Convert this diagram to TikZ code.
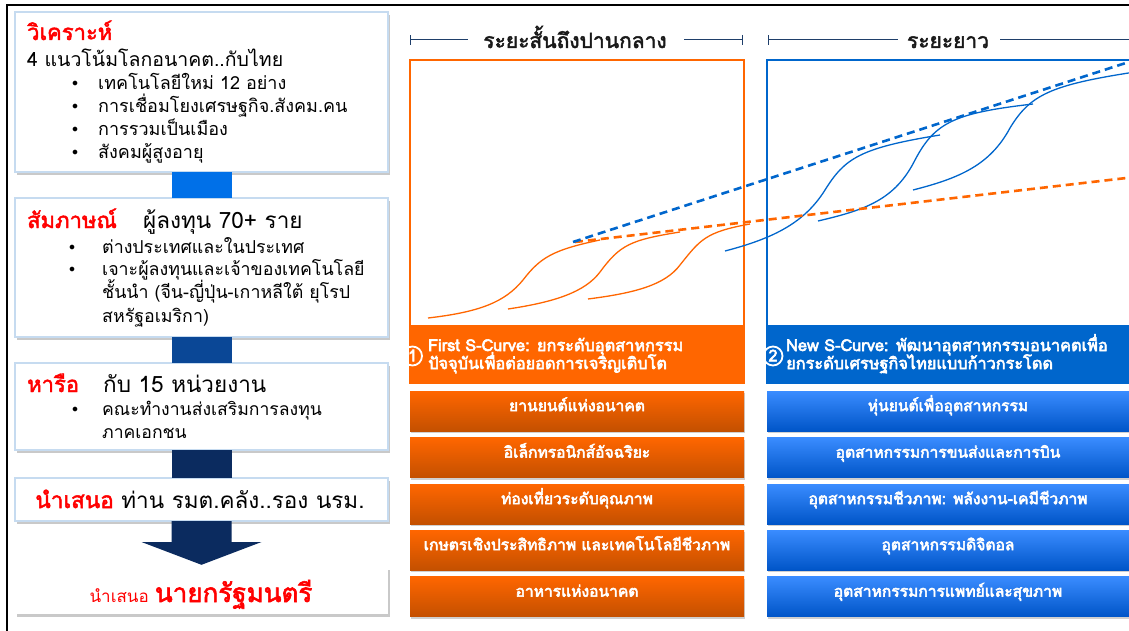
\documentclass[tikz,border=0pt]{standalone}
\usepackage{fontspec}
\setmainfont[Script=Thai, AutoFakeBold=2.2]{Loma}
\newfontfamily\heavy[Script=Thai, FakeBold=3.6]{Loma}
\usetikzlibrary{shadows,calc,arrows.meta}
\definecolor{tred}{HTML}{FF0000}
\definecolor{boxb}{HTML}{C6DBF0}
\definecolor{orng}{HTML}{FF6600}
\definecolor{orngd}{HTML}{C45000}
\definecolor{blu}{HTML}{0066CC}
\definecolor{blul}{HTML}{3A8CFF}
\definecolor{blud}{HTML}{0055C8}
\definecolor{hdr}{HTML}{1F3F6A}
\definecolor{cone}{HTML}{0070E8}
\definecolor{ctwo}{HTML}{0A4796}
\definecolor{cthree}{HTML}{0B2B5F}
\tikzset{
  lbox/.style={draw=boxb, line width=2pt, fill=white, minimum width=373pt,
    drop shadow={shadow xshift=2pt, shadow yshift=-3pt, opacity=0.35, fill=black!60}},
  plainbox/.style={fill=white, minimum width=373pt,
    drop shadow={shadow xshift=2pt, shadow yshift=-3pt, opacity=0.35, fill=black!60}},
  txt/.style={anchor=base west, inner sep=0pt},
  ctxt/.style={anchor=base, inner sep=0pt},
  bul/.style={anchor=base west, inner sep=0pt, font=\fontsize{12}{12}\selectfont, yshift=3pt},
  obar/.style={top color=orng, bottom color=orngd, minimum width=334pt, minimum height=40pt,
    drop shadow={shadow xshift=1pt, shadow yshift=-2pt, opacity=0.3, fill=black!60}},
  bbar/.style={top color=blul, bottom color=blud, minimum width=362pt, minimum height=40pt,
    drop shadow={shadow xshift=1pt, shadow yshift=-2pt, opacity=0.3, fill=black!60}},
  bartxt/.style={anchor=base, inner sep=0pt, text=white, font=\heavy\fontsize{15.6}{17}\selectfont},
  hdrline/.style={draw=hdr, line width=1pt},
  numc/.style={circle, draw=white, line width=1.8pt, text=white, inner sep=0pt, minimum size=19pt,
    text height=10.5pt, text depth=0pt, font=\heavy\fontsize{16}{16}\selectfont},
  bandtxt/.style={anchor=base west, inner sep=0pt, text=white, font=\heavy\fontsize{16.3}{18}\selectfont},
  oscurve/.style={draw=orng, line width=1.3pt},
  bscurve/.style={draw=blu, line width=1.3pt},
  ttl/.style={anchor=base west, inner sep=0pt, text=tred, font=\fontsize{22}{24}\selectfont\bfseries},
}
\begin{document}
\begin{tikzpicture}[x=1pt,y=-1pt]
\useasboundingbox (0,0) rectangle (1129,631);
\clip (0,0) rectangle (1129,631);
\fill[white] (0,0) rectangle (1129,631);
\draw[line width=2pt] (7,5) rectangle (1145,645);

% ---------- left column ----------
\node[lbox, minimum height=160pt] (b1) at (201.5,92) {};
\node[lbox, minimum height=139pt] (b2) at (201.5,267.5) {};
\node[lbox, minimum height=87pt] (b3) at (201.5,406.5) {};
\node[lbox, minimum height=43pt] (b4) at (201.5,499.5) {};
\node[plainbox, minimum height=47pt] (b5) at (201.5,590.5) {};

\fill[cone] ($(b1.south)+(-30,-1)$) rectangle ($(b2.north)+(30,1)$);
\fill[ctwo] ($(b2.south)+(-30,-1)$) rectangle ($(b3.north)+(30,1)$);
\fill[cthree] ($(b3.south)+(-30,-1)$) rectangle ($(b4.north)+(30,1)$);
\fill[cthree] ($(b4.south)+(-30,-1)$) -- ($(b4.south)+(30,-1)$) -- ($(b4.south)+(30,20)$)
  -- ($(b4.south)+(60,20)$) -- ($(b5.north)+(0,-2)$) -- ($(b4.south)+(-60,20)$)
  -- ($(b4.south)+(-30,20)$) -- cycle;

% box 1
\node[ttl] (t1) at (27,40) {วิเคราะห์};
\node[txt, font=\fontsize{19.5}{22}\selectfont] (t1a) at (27,67) {4 แนวโน้มโลกอนาคต..กับไทย};
\foreach \yy/\tt [count=\i] in {90/เทคโนโลยีใหม่ 12 อย่าง, 113/การเชื่อมโยงเศรษฐกิจ.สังคม.คน, 136/การรวมเป็นเมือง, 159/สังคมผู้สูงอายุ}{
  \node[bul] (bu1\i) at (72,\yy) {$\bullet$};
  \node[txt, font=\fontsize{18}{20}\selectfont] (l1\i) at (98,\yy) {\tt};
}
% box 2
\node[ttl] (t2) at (27,228) {สัมภาษณ์};
\node[txt, font=\fontsize{22.5}{24}\selectfont] (t2a) at (143,228) {ผู้ลงทุน 70+ ราย};
\node[bul] (bu21) at (69,253) {$\bullet$};
\node[txt, font=\fontsize{17.8}{20}\selectfont] (l21) at (102,253) {ต่างประเทศและในประเทศ};
\node[bul] (bu22) at (69,275) {$\bullet$};
\node[txt, font=\fontsize{17.8}{20}\selectfont] (l22) at (102,275) {เจาะผู้ลงทุนและเจ้าของเทคโนโลยี};
\node[txt, font=\fontsize{17.8}{20}\selectfont] (l23) at (102,298) {ชั้นนำ (จีน-ญี่ปุ่น-เกาหลีใต้ ยุโรป};
\node[txt, font=\fontsize{17.8}{20}\selectfont] (l24) at (102,322) {สหรัฐอเมริกา)};
% box 3
\node[ttl] (t3) at (27,392) {หารือ};
\node[txt, font=\fontsize{22.5}{24}\selectfont] (t3a) at (103,392) {กับ 15 หน่วยงาน};
\node[bul] (bu31) at (72,415) {$\bullet$};
\node[txt, font=\fontsize{17.6}{20}\selectfont] (l31) at (102,415) {คณะทำงานส่งเสริมการลงทุน};
\node[txt, font=\fontsize{17.6}{20}\selectfont] (l32) at (102,438) {ภาคเอกชน};
% box 4
\node[ctxt, font=\fontsize{22.5}{24}\selectfont] (t4) at (200,508) {{\color{tred}\bfseries นำเสนอ} ท่าน รมต.คลัง..รอง นรม.};
% box 5
\node[ctxt, text=tred] (t5) at (201,602) {{\fontsize{17}{18}\selectfont นำเสนอ}\; {\fontsize{26}{28}\selectfont\bfseries นายกรัฐมนตรี}};

% ---------- headers ----------
\node[ctxt, font=\fontsize{21}{24}\selectfont\bfseries, text=black!90] (h1) at (575,48) {ระยะสั้นถึงปานกลาง};
\node[ctxt, font=\fontsize{21}{24}\selectfont\bfseries, text=black!90] (h2) at (948,48) {ระยะยาว};
\coordinate (h1l) at (410,40);
\coordinate (h1r) at (743,40);
\coordinate (h2l) at (768,40);
\coordinate (h2r) at (1140,40);
\draw[hdrline, {Bar[width=10pt]}-] (h1l) -- (468,40);
\draw[hdrline, -{Bar[width=10pt]}] (684,40) -- (h1r);
\draw[hdrline, {Bar[width=10pt]}-] (h2l) -- (898,40);
\draw[hdrline] (1000,40) -- (h2r);

% ---------- chart boxes ----------
\draw[orng, line width=2pt] (410,60) rectangle (744,383);
\node[fill=orng, minimum width=334pt, minimum height=58pt, inner sep=0pt] (oband) at (577,354) {};
\draw[blu, line width=2pt] (767,60) rectangle (1150,383);
\node[fill=blu, minimum width=380pt, minimum height=58pt, inner sep=0pt] (bband) at (958,354) {};

\node[numc] (n1) at (412.5,356) {1};
\node[numc] (n2) at (773,356) {2};
\node[bandtxt] (ot1) at (428,351) {First S-Curve: ยกระดับอุตสาหกรรม};
\node[bandtxt] (ot2) at (428,369) {ปัจจุบันเพื่อต่อยอดการเจริญเติบโต};
\node[bandtxt] (bt1) at (786,351) {New S-Curve: พัฒนาอุตสาหกรรมอนาคตเพื่อ};
\node[bandtxt] (bt2) at (786,369) {ยกระดับเศรษฐกิจไทยแบบก้าวกระโดด};

% curves
\draw[oscurve] (428,318) .. controls (480,312) and (505,302) .. (523,280) .. controls (540,258) and (552,250) .. (600,240);
\draw[oscurve] (508,309) .. controls (555,302) and (585,292) .. (600,272) .. controls (620,245) and (630,240) .. (680,232);
\draw[oscurve] (588,299) .. controls (635,293) and (665,285) .. (680,265) .. controls (700,240) and (705,232) .. (750,224);
\draw[bscurve] (725,251) .. controls (775,238) and (805,222) .. (825,190) .. controls (845,158) and (860,148) .. (940,135);
\draw[bscurve] (818,221) .. controls (865,210) and (895,200) .. (915,160) .. controls (935,122) and (955,113) .. (1033,104);
\draw[bscurve] (913,190) .. controls (960,178) and (990,165) .. (1010,128) .. controls (1030,95) and (1050,85) .. (1135,72);
\coordinate (od1) at (575,242);
\coordinate (od2) at (1135,177);
\coordinate (bd1) at (573,242);
\coordinate (bd2) at (1135,60);
\draw[orng, line width=2.6pt, dash pattern=on 8pt off 5pt] (od1) -- (od2);
\draw[blu, line width=2.6pt, dash pattern=on 8pt off 5pt] (bd1) -- (bd2);

% ---------- bars ----------
\foreach \yc/\ot/\bt [count=\i] in {411/ยานยนต์แห่งอนาคต/หุ่นยนต์เพื่ออุตสาหกรรม,
  457.5/อิเล็กทรอนิกส์อัจฉริยะ/อุตสาหกรรมการขนส่งและการบิน,
  504/ท่องเที่ยวระดับคุณภาพ/อุตสาหกรรมชีวภาพ: พลังงาน-เคมีชีวภาพ,
  550/เกษตรเชิงประสิทธิภาพ และเทคโนโลยีชีวภาพ/อุตสาหกรรมดิจิตอล,
  596.5/อาหารแห่งอนาคต/อุตสาหกรรมการแพทย์และสุขภาพ}{
  \node[obar] (ob\i) at (577,\yc) {};
  \node[bartxt] (obt\i) at ($(ob\i.south)+(0,-20)$) {\ot};
  \node[bbar] (bb\i) at (948,\yc) {};
  \node[bartxt] (bbt\i) at ($(bb\i.south)+(0,-20)$) {\bt};
}
\end{tikzpicture}
\end{document}
